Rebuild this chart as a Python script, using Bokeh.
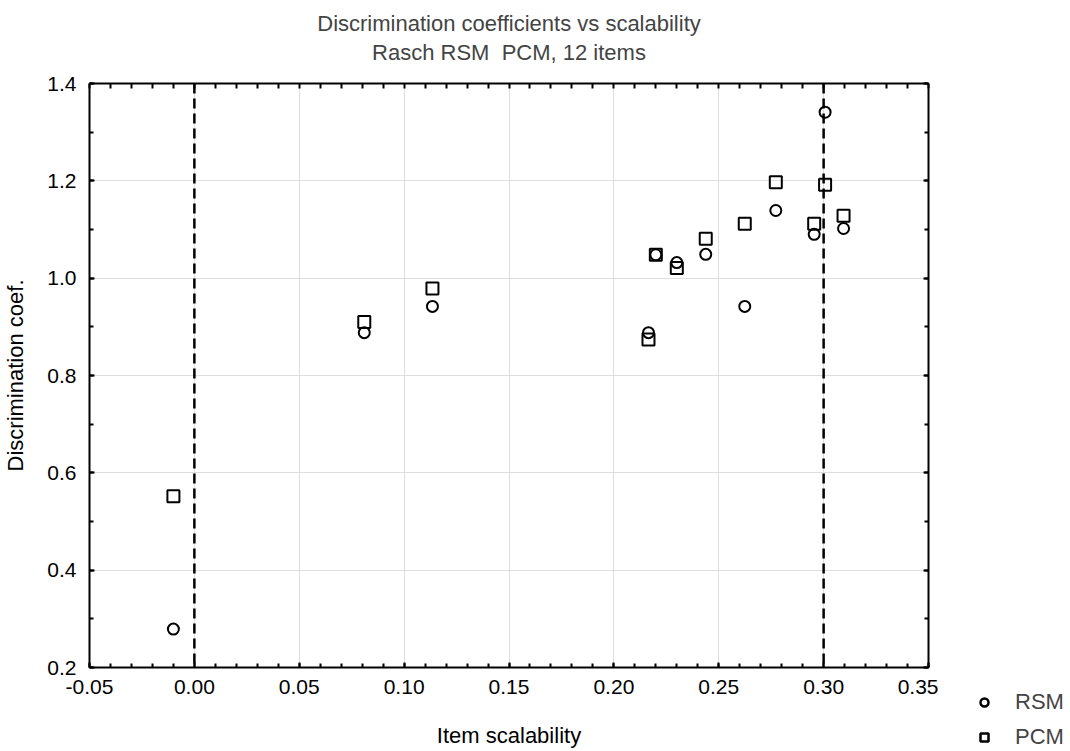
from bokeh.plotting import figure
from bokeh.layouts import row
from bokeh.models import (LinearAxis, FixedTicker, PrintfTickFormatter, Span, Legend,
                          LegendItem, Title, Range1d, ColumnDataSource, CustomJSTickFormatter)
from bokeh.embed import file_html
from bokeh.resources import INLINE

# ---- data ----
item_scalability = [-0.010, 0.081, 0.1135, 0.2165, 0.220, 0.230, 0.2438, 0.2624, 0.2772, 0.2955, 0.3007, 0.3095]
rsm = [0.279, 0.888, 0.942, 0.888, 1.048, 1.032, 1.049, 0.942, 1.139, 1.090, 1.341, 1.102]
pcm = [0.552, 0.910, 0.979, 0.874, 1.048, 1.021, 1.081, 1.112, 1.197, 1.112, 1.192, 1.128]
x_ticks = [-0.05, 0.00, 0.05, 0.10, 0.15, 0.20, 0.25, 0.30, 0.35]
y_ticks = [0.2, 0.4, 0.6, 0.8, 1.0, 1.2, 1.4]
ref_lines = [0.0, 0.30]
title_main = "Discrimination coefficients vs scalability"
title_sub = "Rasch RSM\u00a0 PCM, 12 items"
x_label = "Item scalability"
y_label = "Discrimination coef."
series_names = ["RSM", "PCM"]

FONT = "Liberation Sans"
TICK_FS = "21px"
LABEL_FS = "22px"
x_minor = [round(-0.05 + 0.01 * i, 2) for i in range(41)]
y_minor = [round(0.2 + 0.1 * i, 1) for i in range(13)]

src = ColumnDataSource(dict(x=item_scalability, rsm=rsm, pcm=pcm))

p = figure(frame_width=839, frame_height=584, output_backend="svg", toolbar_location=None,
           x_range=Range1d(-0.05, 0.35), y_range=Range1d(0.2, 1.4),
           min_border_left=86, min_border_right=10, min_border_top=83, min_border_bottom=84,
           background_fill_color="white", border_fill_color="white")
p.outline_line_color = None

xt = FixedTicker(ticks=x_ticks, minor_ticks=x_minor)
yt = FixedTicker(ticks=y_ticks, minor_ticks=y_minor)

for ax, t, fmt in ((p.xaxis[0], xt, "%.2f"), (p.yaxis[0], yt, "%.1f")):
    ax.ticker = t
    ax.formatter = PrintfTickFormatter(format=fmt)
    ax.axis_line_width = 2
    ax.major_tick_line_width = 2
    ax.minor_tick_line_width = 2
    ax.major_tick_in = 5
    ax.major_tick_out = 0
    ax.minor_tick_in = 4
    ax.minor_tick_out = 0
    ax.major_label_text_font = FONT
    ax.major_label_text_font_size = TICK_FS
    ax.major_label_text_color = "black"
    ax.axis_label_text_font = FONT
    ax.axis_label_text_font_size = LABEL_FS
    ax.axis_label_text_font_style = "normal"
    ax.axis_label_text_color = "black"

p.xaxis.axis_label = x_label
p.yaxis.axis_label = y_label
p.xaxis.major_label_standoff = 12
p.xaxis.axis_label_standoff = 26
p.yaxis.major_label_standoff = 13
p.yaxis.axis_label_standoff = 16

p.xgrid.ticker = xt
p.ygrid.ticker = yt
p.grid.grid_line_color = "#dedede"
p.grid.grid_line_width = 1

blank = CustomJSTickFormatter(code="return ''")
# top frame edge: visible inward ticks drawn as minor ticks; the (invisible) outward
# major ticks only reserve the gap between the frame and the titles
top = LinearAxis(ticker=xt, formatter=blank, axis_line_width=2,
                 major_tick_line_color=None, major_tick_in=0, major_tick_out=19,
                 minor_tick_line_width=2, minor_tick_in=5, minor_tick_out=0,
                 major_label_standoff=0)
right = LinearAxis(ticker=yt, formatter=blank, axis_line_width=2,
                   major_tick_line_width=2, minor_tick_line_width=2,
                   major_tick_in=5, major_tick_out=0, minor_tick_in=4, minor_tick_out=0,
                   major_label_standoff=0)
p.add_layout(top, "above")
p.add_layout(right, "right")

p.title.text = title_main
p.title.align = "center"
p.title.text_font = FONT
p.title.text_font_size = LABEL_FS
p.title.text_font_style = "normal"
p.title.standoff = 4
sub = Title(text=title_sub, align="center", text_font=FONT, text_font_size=LABEL_FS,
            text_font_style="normal", standoff=0)
p.add_layout(sub, "above")

for v in ref_lines:
    p.add_layout(Span(location=v, dimension="height", line_color="black",
                      line_width=2.5, line_dash="10 5", level="underlay"))

p.scatter("x", "rsm", source=src, marker="circle", size=11, fill_color=None,
          line_color="black", line_width=2)
p.scatter("x", "pcm", source=src, marker="square", size=12, fill_color=None,
          line_color="black", line_width=2)

# ---- legend strip to the right of the plot, legend at its bottom ----
lf = figure(width=135, height=751, output_backend="svg", toolbar_location=None,
            x_range=Range1d(0, 1), y_range=Range1d(0, 1),
            min_border_left=0, min_border_right=0, min_border_top=0, min_border_bottom=0,
            background_fill_color="white", border_fill_color="white")
lf.outline_line_color = None
lf.axis.visible = False
lf.grid.visible = False
for fig in (p, lf):
    if "frame_align" in fig.properties():
        fig.frame_align = False
nan = float("nan")
key_src = ColumnDataSource(dict(x=[nan], y=[nan]))
lr1 = lf.scatter("x", "y", source=key_src, marker="circle", size=11, fill_color=None,
                 line_color="black", line_width=2.5)
lr2 = lf.scatter("x", "y", source=key_src, marker="square", size=12, fill_color=None,
                 line_color="black", line_width=2.5)
legend = Legend(items=[LegendItem(label=series_names[0], renderers=[lr1]),
                       LegendItem(label=series_names[1], renderers=[lr2])],
                location=(36, 1), padding=0, margin=0, spacing=9,
                glyph_width=20, glyph_height=20, label_standoff=21, label_height=20,
                label_text_font=FONT, label_text_font_size=LABEL_FS,
                border_line_color=None, background_fill_alpha=0)
lf.add_layout(legend)

open("out.html", "w").write(file_html(row(p, lf), INLINE))
